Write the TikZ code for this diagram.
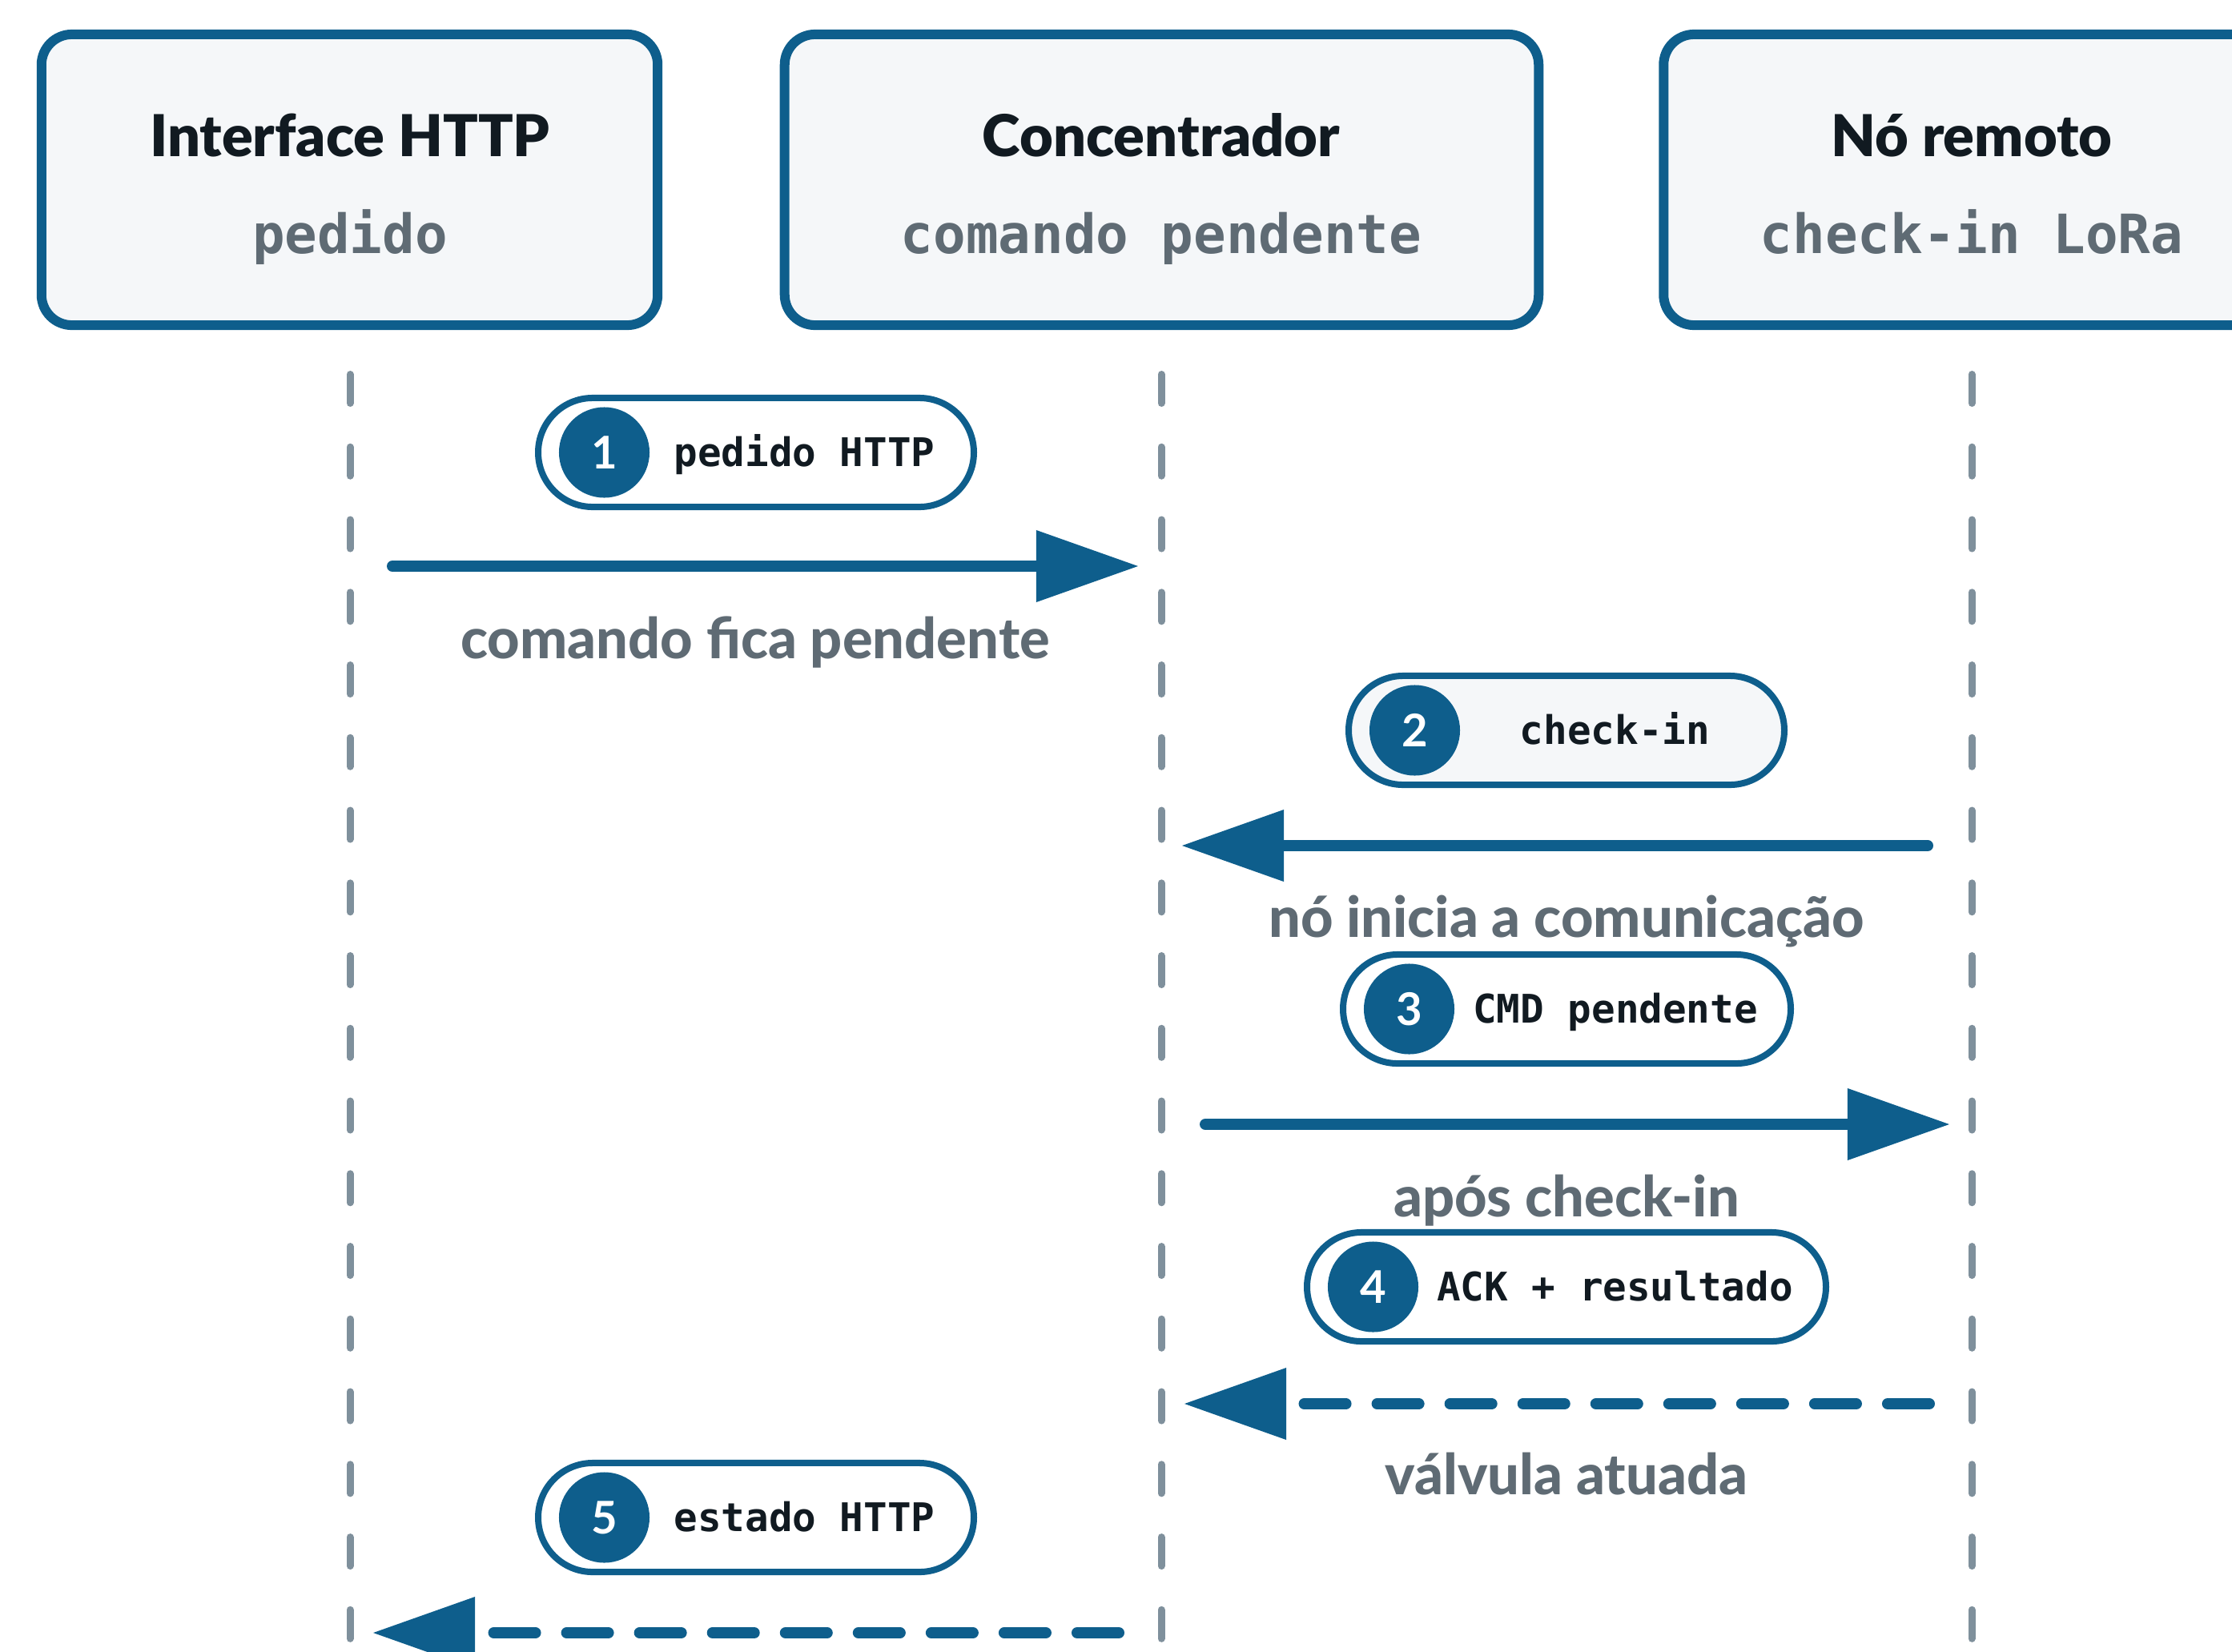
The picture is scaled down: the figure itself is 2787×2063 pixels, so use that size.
\documentclass[tikz,border=0pt]{standalone}
\usepackage{fontspec}
\setmainfont{Lato}
\newfontfamily\titlefont{Lato Black}
\newfontfamily\lblfont{Lato Heavy}
\setmonofont{DejaVu Sans Mono}
\usetikzlibrary{arrows.meta}
\definecolor{blu}{HTML}{0E5E8C}
\definecolor{boxfill}{HTML}{F5F7F9}
\definecolor{titlecol}{HTML}{111A21}
\definecolor{subcol}{HTML}{5F6B74}
\definecolor{lifecol}{HTML}{7F909C}
\tikzset{
  actor/.style={draw=blu, line width=0.12cm, fill=boxfill, rounded corners=0.38cm,
    minimum height=3.63cm, inner sep=0pt},
  titletxt/.style={anchor=base, inner sep=0pt, text=titlecol, font=\titlefont\fontsize{20.5}{20.5}\selectfont},
  subtxt/.style={anchor=base, inner sep=0pt, text=subcol, font=\ttfamily\bfseries\fontsize{19.2}{19.2}\selectfont},
  lifeline/.style={draw=lifecol, line width=0.09cm, line cap=round, dash pattern=on 0.36cm off 0.547cm},
  msg/.style={draw=blu, line width=0.14cm, line cap=round, -{Triangle[length=1.28cm,width=0.86cm]}},
  reply/.style={msg, dash pattern=on 0.52cm off 0.39cm},
  lbl/.style={anchor=base, inner sep=0pt, text=subcol, font=\lblfont\fontsize{20}{20}\selectfont},
  pillbox/.style={draw=blu, line width=0.08cm, rounded corners=0.68cm, minimum height=1.36cm, inner sep=0pt},
  numdot/.style={circle, fill=blu, minimum size=1.13cm, inner sep=0pt, text=white, font=\bfseries\fontsize{16}{16}\selectfont},
  pilltxt/.style={anchor=base, inner sep=0pt, text=titlecol, font=\ttfamily\bfseries\fontsize{14}{14}\selectfont}
}
\newcommand\mypill[7]{%
  \node[pillbox, fill=#5, minimum width=#4*0.01cm] (#1) at (#2,#3) {};
  \node[numdot] (#1n) at (#2-#4/2+82.5,#3) {#6};
  \node[pilltxt] (#1t) at (#2+60.5,#3+17) {#7};
}
\begin{document}
\begin{tikzpicture}[x=0.01cm,y=-0.01cm]
\useasboundingbox (0,0) rectangle (2787,2063);
\clip (0,0) rectangle (2787,2063);
% actors
\node[actor, minimum width=7.69cm] (a1) at (436.5,224.5) {};
\node[actor, minimum width=9.41cm] (a2) at (1450.5,224.5) {};
\node[actor, minimum width=7.69cm] (a3) at (2462,224.5) {};
\node[titletxt] (t1) at (437,195) {Interface HTTP};
\node[titletxt] (t2) at (1450,195) {Concentrador};
\node[titletxt] (t3) at (2462,195) {Nó remoto};
\node[subtxt] (s1) at (437,316) {pedido};
\node[subtxt] (s2) at (1450,316) {comando pendente};
\node[subtxt] (s3) at (2462,316) {check-in LoRa};
% lifelines
\coordinate (l1top) at (437,467.5);  \coordinate (l1bot) at (437,2080);
\coordinate (l2top) at (1450,467.5); \coordinate (l2bot) at (1450,2080);
\coordinate (l3top) at (2462,467.5); \coordinate (l3bot) at (2462,2080);
\draw[lifeline] (l1top) -- (l1bot);
\draw[lifeline] (l2top) -- (l2bot);
\draw[lifeline] (l3top) -- (l3bot);
% message endpoints
\coordinate (m1s) at (490,707);  \coordinate (m1e) at (1422,707);
\coordinate (m2s) at (2407,1056); \coordinate (m2e) at (1475,1056);
\coordinate (m3s) at (1505,1404); \coordinate (m3e) at (2435,1404);
\coordinate (m4s) at (2409,1753); \coordinate (m4e) at (1478,1753);
\coordinate (m5s) at (1397,2039); \coordinate (m5e) at (465,2039);
\draw[msg] (m1s) -- (m1e);
\draw[msg] (m2s) -- (m2e);
\draw[msg] (m3s) -- (m3e);
\draw[reply] (m4s) -- (m4e);
\draw[reply] (m5s) -- (m5e);
% labels
\node[lbl] (lb1) at (943,822) {comando fica pendente};
\node[lbl] (lb2) at (1956,1170) {nó inicia a comunicação};
\node[lbl] (lb3) at (1956,1519) {após check-in};
\node[lbl] (lb4) at (1956,1866) {válvula atuada};
% pills
\mypill{p1}{944}{565}{544}{white}{1}{pedido HTTP}
\mypill{p2}{1956}{912}{544}{boxfill}{2}{check-in}
\mypill{p3}{1956.5}{1260}{559}{white}{3}{CMD pendente}
\mypill{p4}{1956}{1607}{648}{white}{4}{ACK + resultado}
\mypill{p5}{944}{1895}{544}{white}{5}{estado HTTP}
\end{tikzpicture}
\end{document}
